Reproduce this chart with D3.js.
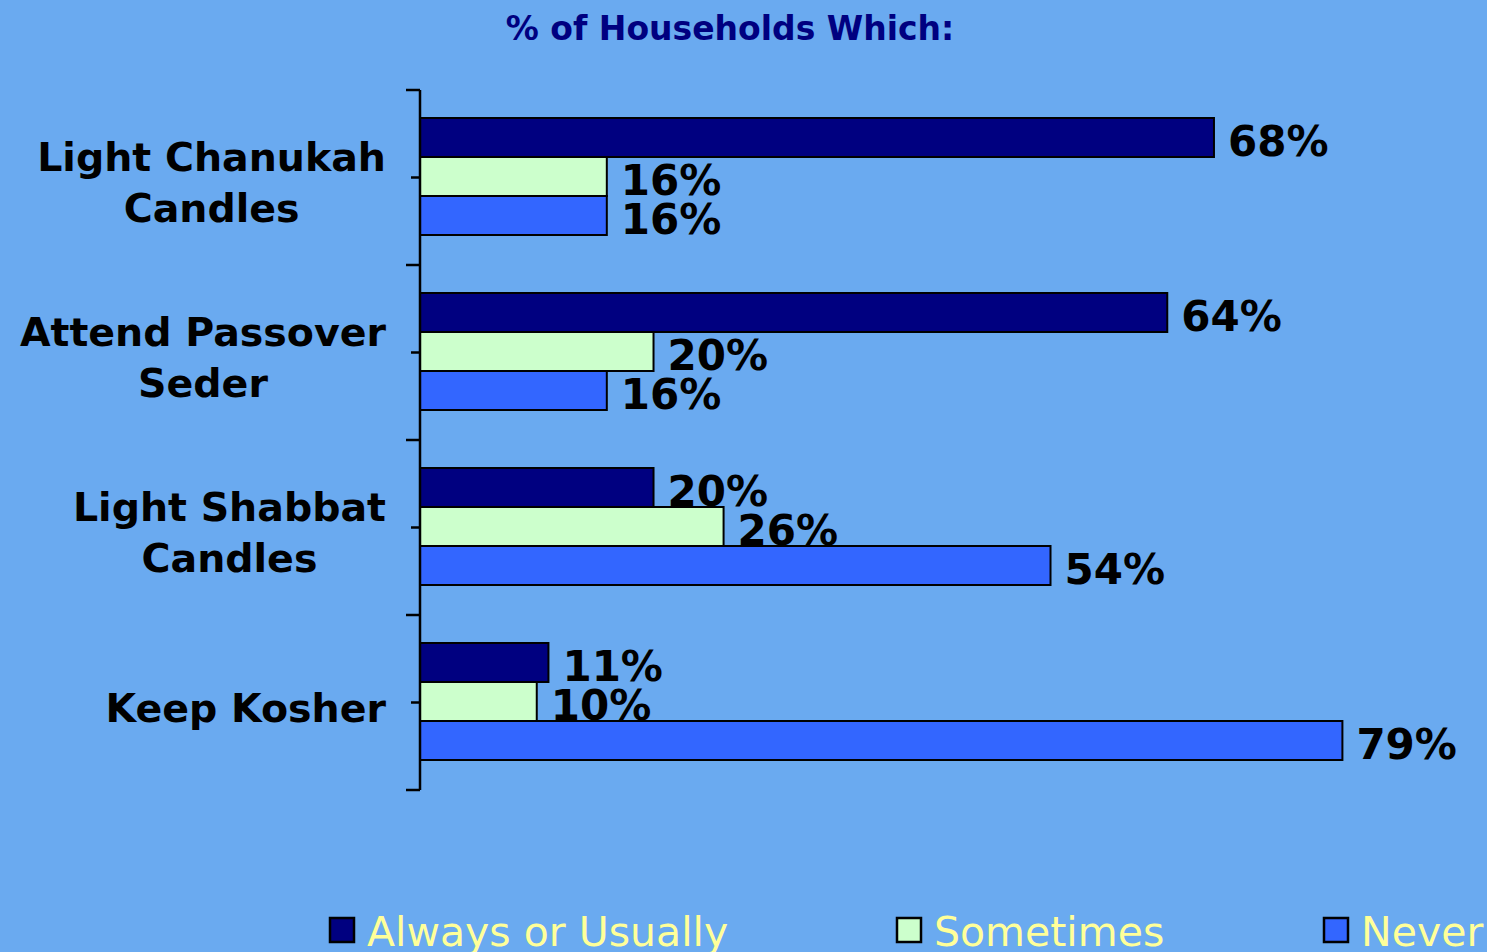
<!DOCTYPE html>
<html>
<head>
<meta charset="utf-8">
<script src="https://cdn.jsdelivr.net/npm/d3@7"></script>
<style>
  html, body { margin: 0; padding: 0; background: #6aaaf0; overflow: hidden; }
  svg { display: block; }
</style>
</head>
<body>
<div id="chart"></div>
<script>
// data
var categories = [
  ["Light Chanukah", "Candles"],
  ["Attend Passover", "Seder"],
  ["Light Shabbat", "Candles"],
  ["Keep Kosher"]
];
var seriesNames = ["Always or Usually", "Sometimes", "Never"];
var always = [68, 64, 20, 11];
var sometimes = [16, 20, 26, 10];
var never = [16, 16, 54, 79];
var seriesColors = ["#000080", "#ccffcc", "#3366ff"];

var W = 1487, H = 952;
var svg = d3.select("#chart").append("svg")
    .attr("width", W)
    .attr("height", H);

svg.append("rect").attr("width", W).attr("height", H).attr("fill", "#6aaaf0");

var catKeys = categories.map(function(d) { return d.join(" "); });
var values = [always, sometimes, never];

var x = d3.scaleLinear().domain([0, 100]).range([420, 420 + 1167.6]);
var y = d3.scaleBand().domain(catKeys).range([90, 790]);
var ySub = d3.scaleBand().domain(seriesNames).range([28, y.bandwidth() - 30]);

// title
svg.append("text")
    .attr("x", 730)
    .attr("y", 40)
    .attr("text-anchor", "middle")
    .attr("font-family", "DejaVu Sans, Verdana, sans-serif")
    .attr("font-weight", "bold")
    .attr("font-size", "33px")
    .attr("fill", "#000080")
    .text("% of Households Which:");

// bars
var groups = svg.selectAll("g.cat")
    .data(catKeys)
  .enter().append("g")
    .attr("class", "cat")
    .attr("transform", function(d) { return "translate(0," + y(d) + ")"; });

groups.each(function(cat, ci) {
  var g = d3.select(this);
  seriesNames.forEach(function(s, si) {
    var v = values[si][ci];
    g.append("rect")
        .attr("x", x(0))
        .attr("y", ySub(s))
        .attr("width", x(v) - x(0))
        .attr("height", ySub.bandwidth())
        .attr("fill", seriesColors[si])
        .attr("stroke", "#000")
        .attr("stroke-width", 2);
  });
  seriesNames.forEach(function(s, si) {
    var v = values[si][ci];
    g.append("text")
        .attr("x", x(v) + 14)
        .attr("y", ySub(s) + ySub.bandwidth() / 2 + 18)
        .attr("font-family", "DejaVu Sans, Verdana, sans-serif")
        .attr("font-weight", "bold")
        .attr("font-size", "42px")
        .attr("fill", "#000")
        .text(v + "%");
  });
});

// axis
var axis = svg.append("g")
    .attr("transform", "translate(" + x(0) + ",0)")
    .call(d3.axisLeft(y).tickSize(9).tickFormat(""));
axis.select(".domain").attr("d", "M0,90V790").attr("stroke", "#000").attr("stroke-width", 2.5);
axis.selectAll(".tick line").attr("stroke", "#000").attr("stroke-width", 2.5);

var bounds = catKeys.map(function(d) { return y(d); }).concat([y.range()[1]]);
axis.selectAll("line.major")
    .data(bounds)
  .enter().append("line")
    .attr("class", "major")
    .attr("x1", -14).attr("x2", 0)
    .attr("y1", function(d) { return d; })
    .attr("y2", function(d) { return d; })
    .attr("stroke", "#000")
    .attr("stroke-width", 2.5);

// category labels (centered lines, right-aligned block)
categories.forEach(function(lines, ci) {
  var cy = y(catKeys[ci]) + y.bandwidth() / 2;
  var t = svg.append("g");
  var texts = lines.map(function(line, li) {
    var base = lines.length === 1 ? cy + 19 : cy - 7 + li * 51;
    return t.append("text")
        .attr("y", base)
        .attr("text-anchor", "middle")
        .attr("font-family", "DejaVu Sans, Verdana, sans-serif")
        .attr("font-weight", "bold")
        .attr("font-size", "39.5px")
        .attr("fill", "#000")
        .text(line);
  });
  var maxW = d3.max(texts, function(tx) { return tx.node().getComputedTextLength(); });
  texts.forEach(function(tx) { tx.attr("x", 386 - maxW / 2); });
});

// legend
var legendX = [330, 897, 1324];
seriesNames.forEach(function(s, si) {
  svg.append("rect")
      .attr("x", legendX[si])
      .attr("y", 918)
      .attr("width", 24)
      .attr("height", 24)
      .attr("fill", seriesColors[si])
      .attr("stroke", "#000")
      .attr("stroke-width", 2.5);
  svg.append("text")
      .attr("x", legendX[si] + 37)
      .attr("y", 946)
      .attr("font-family", "DejaVu Sans, Verdana, sans-serif")
      .attr("font-size", "41px")
      .attr("fill", "#ffff99")
      .text(s);
});
</script>
</body>
</html>
